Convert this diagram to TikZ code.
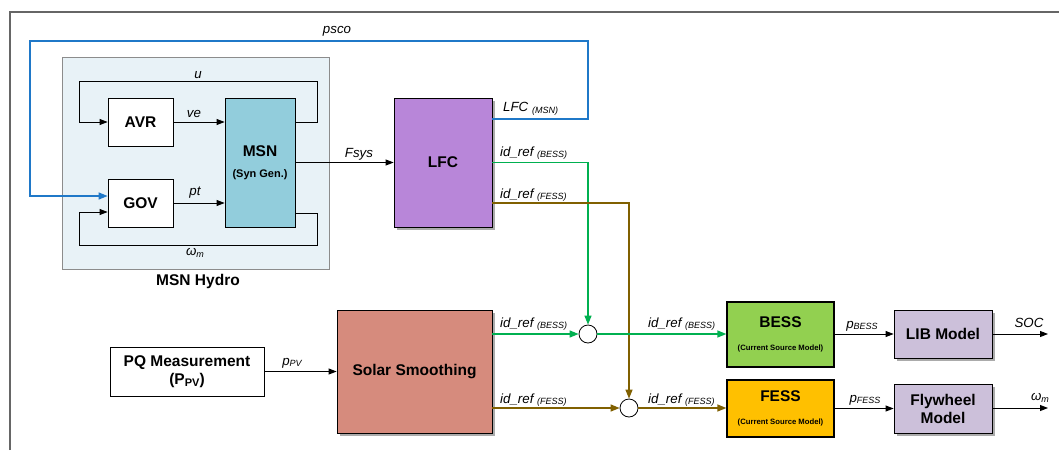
\documentclass[tikz,border=0pt]{standalone}
\usepackage{fontspec}
\setmainfont{Liberation Sans}
\usetikzlibrary{arrows.meta,shadows}
\definecolor{hydrobg}{HTML}{E8F2F7}
\definecolor{msnc}{HTML}{92CDDC}
\definecolor{lfcc}{HTML}{B886D9}
\definecolor{solarc}{HTML}{D68B7D}
\definecolor{bessc}{HTML}{92D050}
\definecolor{fessc}{HTML}{FFC000}
\definecolor{libc}{HTML}{CCC0DA}
\definecolor{bluel}{HTML}{1F78C8}
\definecolor{greenl}{HTML}{00B050}
\definecolor{brownl}{HTML}{806000}
\newcommand\subt[1]{\raisebox{-1.5pt}{\fontsize{9}{9}\selectfont\itshape #1}}
\begin{document}
\begin{tikzpicture}[x=1pt,y=-1pt,
  arr/.style={line width=0.9pt,-{Triangle[length=8pt,width=6pt]}},
  carr/.style={line width=1.3pt,-{Triangle[length=9pt,width=7pt]}},
  box/.style={draw,line width=0.8pt,inner sep=0pt,align=center,font=\fontsize{15.5}{18}\selectfont\bfseries},
  shbox/.style={box,drop shadow={shadow xshift=2.5pt,shadow yshift=-2.5pt,opacity=0.55,fill=black!60}},
  lbl/.style={inner sep=0pt,font=\fontsize{13.3}{15}\selectfont\itshape},
  sum/.style={circle,draw,line width=0.8pt,minimum size=18pt,inner sep=0pt,fill=white}]
\useasboundingbox (0,0) rectangle (1059,450);
% frame
\draw[gray!80!black,line width=1.4pt] (10,450) -- (10,12) -- (1059,12);
% hydro background
\node[draw=black!45,fill=hydrobg,line width=0.8pt,minimum width=267pt,minimum height=212pt,inner sep=0pt] (hydro) at (195.5,163) {};
\node[font=\fontsize{15.5}{18}\selectfont\bfseries] (hydrolbl) at (198,281) {MSN Hydro};
% boxes
\node[box,fill=white,minimum width=65pt,minimum height=48pt] (avr) at (140.5,122) {AVR};
\node[box,fill=white,minimum width=65pt,minimum height=48pt] (gov) at (140.5,203) {GOV};
\node[box,fill=msnc,minimum width=70pt,minimum height=129pt] (msn) at (260,162.5) {MSN\\[3pt]{\fontsize{11}{12}\selectfont (Syn Gen.)}};
\node[shbox,fill=lfcc,minimum width=98pt,minimum height=129pt] (lfc) at (443,162.5) {LFC};
\node[box,fill=white,minimum width=154pt,minimum height=49pt] (pq) at (187,371.5) {PQ Measurement\\(P\raisebox{-2pt}{\fontsize{11}{11}\selectfont\bfseries PV})};
\node[shbox,fill=solarc,minimum width=155pt,minimum height=123pt] (solar) at (414.5,371.5) {Solar Smoothing};
\node[sum] (sumB) at (588,334) {};
\node[sum] (sumF) at (629,408) {};
\node[box,line width=1.3pt,fill=bessc,minimum width=107pt,minimum height=65pt] (bess) at (780.5,334.5) {BESS\\[5pt]{\fontsize{7.7}{9}\selectfont (Current Source Model)}};
\node[box,line width=1.3pt,fill=fessc,minimum width=107pt,minimum height=57pt] (fess) at (780.5,408.5) {FESS\\[5pt]{\fontsize{7.7}{9}\selectfont (Current Source Model)}};
\node[shbox,fill=libc,minimum width=98pt,minimum height=48pt] (lib) at (943,334) {LIB Model};
\node[shbox,fill=libc,minimum width=98pt,minimum height=49pt] (fly) at (943,408.5) {Flywheel\\Model};
% coordinates
\coordinate (uR) at (317,81);
\coordinate (uL) at (79,81);
\coordinate (wR) at (317,245);
\coordinate (wL) at (79,245);
\coordinate (bT) at (588,41);
\coordinate (bL) at (30,41);
\coordinate (socEnd) at (1048,334);
\coordinate (wEnd) at (1048,408);
% hydro connectors
\draw[arr] (msn.east |- avr.west) -| (uR) -| (uL) |- (avr.west);
\draw[arr] (avr.east) -- (msn.west |- avr.east);
\draw[arr] (gov.east) -- (msn.west |- gov.east);
\draw[arr] ([yshift=-50.5pt]msn.east) -| (wR) -| (wL) |- ([yshift=-9pt]gov.west);
\draw[bluel,carr] ([yshift=43.5pt]lfc.east) -| (bT) -| (bL) |- ([yshift=7pt]gov.west);
\draw[arr] (msn.east) -- (lfc.west);
% LFC outputs
\draw[greenl,carr] (lfc.east) -| (sumB.north);
\draw[brownl,carr] ([yshift=-40.5pt]lfc.east) -| (sumF.north);
% solar outputs
\draw[greenl,carr] (solar.east |- sumB) -- (sumB.west);
\draw[brownl,carr] (solar.east |- sumF) -- (sumF.west);
\draw[greenl,carr] (sumB.east) -- (bess.west |- sumB.east);
\draw[brownl,carr] (sumF.east) -- (fess.west |- sumF.east);
\draw[arr] (pq.east) -- (solar.west |- pq.east);
\draw[arr] (bess.east |- lib.west) -- (lib.west);
\draw[arr] (fess.east) -- (fly.west |- fess.east);
\draw[arr] (lib.east) -- (socEnd);
\draw[arr] (fly.east |- wEnd) -- (wEnd);
% labels
\node[lbl] (lpsco) at (337,31) {psco};
\node[lbl] (lu) at (198,75) {u};
\node[lbl] (lve) at (194,114) {ve};
\node[lbl] (lpt) at (195,193) {pt};
\node[lbl] (lwm) at (195,253) {ω\subt{m}};
\node[lbl] (lfsys) at (359,154) {Fsys};
\node[lbl,anchor=west] (llfc) at (503,109) {LFC \subt{(MSN)}};
\node[lbl,anchor=west] (l1) at (500,153) {id\_ref \subt{(BESS)}};
\node[lbl,anchor=west] (l2) at (500,195) {id\_ref \subt{(FESS)}};
\node[lbl,anchor=west] (l3) at (500,324) {id\_ref \subt{(BESS)}};
\node[lbl,anchor=west] (l4) at (500,400) {id\_ref \subt{(FESS)}};
\node[lbl,anchor=west] (l5) at (648,324) {id\_ref \subt{(BESS)}};
\node[lbl,anchor=west] (l6) at (648,400) {id\_ref \subt{(FESS)}};
\node[lbl] (lppv) at (292,363) {p\subt{PV}};
\node[lbl] (lpb) at (862,326) {p\subt{BESS}};
\node[lbl] (lpf) at (865,400) {p\subt{FESS}};
\node[lbl] (lsoc) at (1029,323) {SOC};
\node[lbl] (lwm2) at (1040,398) {ω\subt{m}};
\end{tikzpicture}
\end{document}
